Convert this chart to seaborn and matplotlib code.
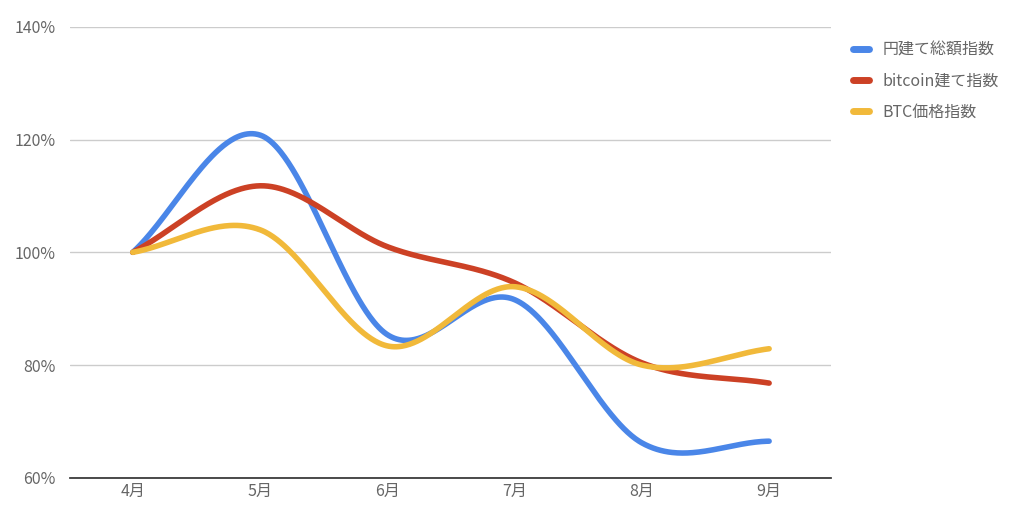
import numpy as np
import pandas as pd
import matplotlib.pyplot as plt
import seaborn as sns
from matplotlib.ticker import FuncFormatter

months = ["4月", "5月", "6月", "7月", "8月", "9月"]
yen_total = [100, 120.8, 85.4, 91.6, 66.2, 66.5]
btc_based = [100, 111.8, 101.0, 94.6, 80.4, 76.8]
btc_price = [100, 104.0, 83.4, 93.9, 80.0, 82.9]

series_names = ["円建て総額指数", "bitcoin建て指数", "BTC価格指数"]
colors = ["#4a86e8", "#cc4125", "#f1b93a"]


def smooth(x, y, xs):
    # Catmull-Rom style hermite curve, only for the smooth line shape
    n = len(x)
    m = np.zeros(n)
    m[0] = y[1] - y[0]
    m[-1] = y[-1] - y[-2]
    for i in range(1, n - 1):
        m[i] = (y[i + 1] - y[i - 1]) / 2
    out = []
    for t in xs:
        i = min(int(np.floor(t)), n - 2)
        s = t - x[i]
        h00 = 2 * s**3 - 3 * s**2 + 1
        h10 = s**3 - 2 * s**2 + s
        h01 = -2 * s**3 + 3 * s**2
        h11 = s**3 - s**2
        out.append(h00 * y[i] + h10 * m[i] + h01 * y[i + 1] + h11 * m[i + 1])
    return np.array(out)


sns.set_theme(style="white")
plt.rcParams['font.family'] = ['Noto Sans CJK JP', 'DejaVu Sans']

fig = plt.figure(figsize=(10.24, 5.16), dpi=100)
ax = fig.add_axes([0.068, 0.074, 0.744, 0.874])

x = np.arange(len(months), dtype=float)
xs = np.linspace(0, len(months) - 1, 500)
frames = []
for name, vals in zip(series_names, [yen_total, btc_based, btc_price]):
    frames.append(pd.DataFrame({"x": xs, "y": smooth(x, np.array(vals, float), xs), "series": name}))
df = pd.concat(frames)

sns.lineplot(data=df, x="x", y="y", hue="series", palette=colors, linewidth=4, ax=ax)

ax.set_ylim(60, 140)
ax.set_xlim(-0.496, 5.49)
ax.set_yticks([60, 80, 100, 120, 140])
ax.yaxis.set_major_formatter(FuncFormatter(lambda v, p: f"{v:.0f}%"))
ax.set_xticks(x)
ax.set_xticklabels(months)
ax.grid(axis="y", color="#cccccc", linewidth=1)
ax.set_xlabel("")
ax.set_ylabel("")
for s in ["top", "right", "left"]:
    ax.spines[s].set_visible(False)
ax.spines["bottom"].set_color("#333333")
ax.tick_params(axis="both", length=0, labelsize=11.5, colors="#666666")
ax.tick_params(axis="y", pad=10)

leg = ax.legend(loc="upper left", bbox_to_anchor=(1.01, 1.0), frameon=False,
                fontsize=11.5, handlelength=1.0, handletextpad=0.8, labelspacing=0.9)
for t in leg.get_texts():
    t.set_color("#666666")
for l in leg.get_lines():
    l.set_linewidth(5)

fig.savefig("out.png", dpi=100)
